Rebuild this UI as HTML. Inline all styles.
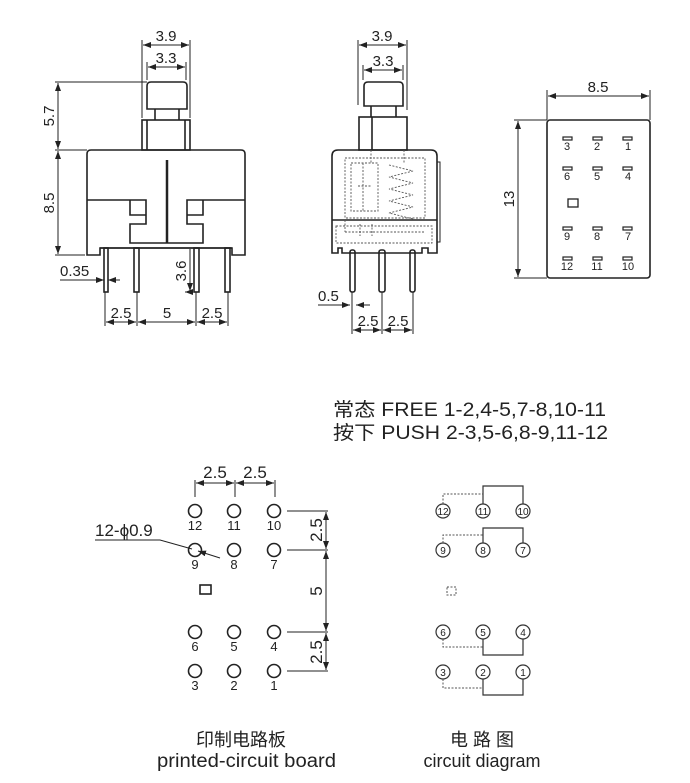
<!DOCTYPE html>
<html><head><meta charset="utf-8"><style>
html,body{margin:0;padding:0;background:#fff;}
svg{display:block;}
text{font-family:"Liberation Sans","Noto Sans CJK SC",sans-serif;fill:#222;}
</style></head><body>
<svg width="690" height="783" viewBox="0 0 690 783" xmlns="http://www.w3.org/2000/svg">
<defs>
<marker id="a" markerWidth="8" markerHeight="6" refX="8" refY="3" orient="auto-start-reverse" markerUnits="userSpaceOnUse"><path d="M0,0 L8,3 L0,6z" fill="#222"/></marker>
</defs>
<g stroke="#222" stroke-width="1.6" fill="none">
<path d="M147,109 V86 Q147,82 151,82 H183 Q187,82 187,86 V109 Z"/>
<path d="M155,109 V120 M179,109 V120"/>
<rect x="142" y="120" width="48" height="30"/>
<path d="M147,120 V150 M185,120 V150"/>
<path d="M87,255 V154 Q87,150 91,150 H241 Q245,150 245,154 V255 H232 V248 H100 V255 Z"/>
<path d="M87,200 H146 V224 H130 V243 H203 V224 H187 V200 H245"/>
<path d="M130,200 V215 H146 M203,200 V215 H187"/>
<path d="M167,160 V243" stroke-width="2.5"/>
<path d="M100,248 H232" />
<rect x="104" y="248" width="4" height="44"/>
<rect x="134" y="248" width="5" height="44"/>
<rect x="194" y="248" width="5" height="44"/>
<rect x="225" y="248" width="5" height="44"/>
</g>
<g stroke="#222" stroke-width="1" fill="none">
<path d="M142,40 V118 M190,40 V118 M147,62 V80 M186,62 V80"/>
<path d="M143,45 H189" marker-start="url(#a)" marker-end="url(#a)"/>
<path d="M148,67 H185" marker-start="url(#a)" marker-end="url(#a)"/>
<path d="M55,82 H147 M55,150 H87 M55,255 H85"/>
<path d="M58,83 V149" marker-start="url(#a)" marker-end="url(#a)"/>
<path d="M58,151 V254" marker-start="url(#a)" marker-end="url(#a)"/>
<path d="M60,280 H104" marker-end="url(#a)"/><path d="M120,280 H108" marker-end="url(#a)"/>
<path d="M185,292 H193 M190,249 V291" marker-start="url(#a)" marker-end="url(#a)"/>
<path d="M105,292 V326 M137,292 V326 M196,292 V326 M228,292 V326"/>
<path d="M106,322 H136" marker-start="url(#a)" marker-end="url(#a)"/>
<path d="M138,322 H195" marker-start="url(#a)" marker-end="url(#a)"/>
<path d="M197,322 H227" marker-start="url(#a)" marker-end="url(#a)"/>
</g>
<g font-size="15">
<text x="166" y="41" text-anchor="middle">3.9</text>
<text x="166" y="63" text-anchor="middle">3.3</text>
<text transform="translate(54,116) rotate(-90)" text-anchor="middle">5.7</text>
<text transform="translate(54,203) rotate(-90)" text-anchor="middle">8.5</text>
<text x="60" y="276">0.35</text>
<text transform="translate(186,271) rotate(-90)" text-anchor="middle">3.6</text>
<text x="121" y="318" text-anchor="middle">2.5</text>
<text x="167" y="318" text-anchor="middle">5</text>
<text x="212" y="318" text-anchor="middle">2.5</text>
</g>
<g stroke="#222" stroke-width="1.6" fill="none">
<path d="M364,106 V86 Q364,82 368,82 H399 Q403,82 403,86 V106 Z"/>
<path d="M371,106 V117 M396,106 V117"/>
<rect x="359" y="117" width="48" height="33"/>
<path d="M372,117 V150"/>
<path d="M332,253 V156 Q332,150 338,150 H431 Q437,150 437,156 V253 H428 V248 H422 V253 H342 V248 H338 V253 Z"/>
<path d="M332,220 H437"/>
<rect x="437" y="162" width="3" height="80" stroke-width="1"/>
<rect x="350" y="250" width="5" height="42" rx="2"/>
<rect x="379" y="250" width="6" height="42" rx="2"/>
<rect x="410" y="250" width="5" height="42" rx="2"/>
</g>
<g stroke="#555" stroke-width="0.9" fill="none" stroke-dasharray="2,1.5">
<rect x="345" y="158" width="80" height="60"/>
<rect x="351" y="163" width="27" height="48"/>
<path d="M363,163 V211 M358,186 H372 M371,150 V163 M404,150 V163"/>
<path d="M389,165 l24,6 l-24,6 l24,6 l-24,6 l24,6 l-24,6 l24,6 l-24,6 l24,6"/>
<path d="M336,226 H432 V243 H336 Z M345,232 H425 M360,224 V236 M372,224 V236 M345,220 V232"/>
</g>
<g stroke="#222" stroke-width="1" fill="none">
<path d="M358,40 V105 M407,40 V110 M363,65 V80 M403,65 V80"/>
<path d="M359,45 H406" marker-start="url(#a)" marker-end="url(#a)"/>
<path d="M364,70 H402" marker-start="url(#a)" marker-end="url(#a)"/>
<path d="M318,305 H350" marker-end="url(#a)"/><path d="M370,305 H356" marker-end="url(#a)"/>
<path d="M352,292 V334 M382,292 V334 M413,292 V334"/>
<path d="M353,330 H381" marker-start="url(#a)" marker-end="url(#a)"/>
<path d="M383,330 H412" marker-start="url(#a)" marker-end="url(#a)"/>
</g>
<g font-size="15">
<text x="382" y="41" text-anchor="middle">3.9</text>
<text x="383" y="66" text-anchor="middle">3.3</text>
<text x="318" y="301">0.5</text>
<text x="368" y="326" text-anchor="middle">2.5</text>
<text x="398" y="326" text-anchor="middle">2.5</text>
</g>
<g stroke="#222" stroke-width="1.6" fill="none">
<rect x="547" y="120" width="103" height="158" rx="3"/>
<rect x="568" y="199" width="10" height="8" stroke-width="1.3"/>
</g>
<g stroke="#222" stroke-width="1" fill="none">
<path d="M547,90 V120 M650,90 V120 M514,120 H547 M514,278 H547"/>
<path d="M548,96 H649" marker-start="url(#a)" marker-end="url(#a)"/>
<path d="M518,121 V277" marker-start="url(#a)" marker-end="url(#a)"/>
</g>
<g fill="#fff" stroke="#222" stroke-width="1.2">
<rect x="563" y="137" width="9" height="3"/><rect x="593" y="137" width="9" height="3"/><rect x="623" y="137" width="9" height="3"/>
<rect x="563" y="167" width="9" height="3"/><rect x="593" y="167" width="9" height="3"/><rect x="623" y="167" width="9" height="3"/>
<rect x="563" y="227" width="9" height="3"/><rect x="593" y="227" width="9" height="3"/><rect x="623" y="227" width="9" height="3"/>
<rect x="563" y="257" width="9" height="3"/><rect x="593" y="257" width="9" height="3"/><rect x="623" y="257" width="9" height="3"/>
</g>
<g font-size="11" text-anchor="middle">
<text x="567" y="150">3</text><text x="597" y="150">2</text><text x="628" y="150">1</text>
<text x="567" y="180">6</text><text x="597" y="180">5</text><text x="628" y="180">4</text>
<text x="567" y="240">9</text><text x="597" y="240">8</text><text x="628" y="240">7</text>
<text x="567" y="270">12</text><text x="597" y="270">11</text><text x="628" y="270">10</text>
</g>
<text x="598" y="92" font-size="15" text-anchor="middle">8.5</text>
<text transform="translate(514,199) rotate(-90)" font-size="15" text-anchor="middle">13</text>
<text x="333" y="416" font-size="19" textLength="273" lengthAdjust="spacingAndGlyphs">常态 FREE 1-2,4-5,7-8,10-11</text>
<text x="333" y="439" font-size="19" textLength="275" lengthAdjust="spacingAndGlyphs">按下 PUSH 2-3,5-6,8-9,11-12</text>
<g stroke="#222" stroke-width="1.6" fill="none">
<circle cx="195" cy="511" r="6.5"/><circle cx="234" cy="511" r="6.5"/><circle cx="274" cy="511" r="6.5"/>
<circle cx="195" cy="550" r="6.5"/><circle cx="234" cy="550" r="6.5"/><circle cx="274" cy="550" r="6.5"/>
<circle cx="195" cy="632" r="6.5"/><circle cx="234" cy="632" r="6.5"/><circle cx="274" cy="632" r="6.5"/>
<circle cx="195" cy="671" r="6.5"/><circle cx="234" cy="671" r="6.5"/><circle cx="274" cy="671" r="6.5"/>
<rect x="200" y="585" width="11" height="9"/>
</g>
<g stroke="#222" stroke-width="1" fill="none">
<path d="M195,480 V497 M235,480 V497 M275,480 V497"/>
<path d="M196,483 H234" marker-start="url(#a)" marker-end="url(#a)"/>
<path d="M236,483 H274" marker-start="url(#a)" marker-end="url(#a)"/>
<path d="M287,511 H328 M287,550 H328 M287,632 H328 M287,671 H328"/>
<path d="M326,512 V549" marker-start="url(#a)" marker-end="url(#a)"/>
<path d="M326,551 V631" marker-start="url(#a)" marker-end="url(#a)"/>
<path d="M326,633 V670" marker-start="url(#a)" marker-end="url(#a)"/>
<path d="M95,540 H160 L192,549"/><path d="M127,540 V535"/>
<path d="M220,558 L198,551" marker-end="url(#a)"/>
</g>
<g font-size="17">
<text x="215" y="478" text-anchor="middle">2.5</text>
<text x="255" y="478" text-anchor="middle">2.5</text>
<text x="95" y="536">12-ϕ0.9</text>
<text transform="translate(322,530) rotate(-90)" text-anchor="middle">2.5</text>
<text transform="translate(322,591) rotate(-90)" text-anchor="middle">5</text>
<text transform="translate(322,652) rotate(-90)" text-anchor="middle">2.5</text>
</g>
<g font-size="13" text-anchor="middle">
<text x="195" y="530">12</text><text x="234" y="530">11</text><text x="274" y="530">10</text>
<text x="195" y="569">9</text><text x="234" y="569">8</text><text x="274" y="569">7</text>
<text x="195" y="651">6</text><text x="234" y="651">5</text><text x="274" y="651">4</text>
<text x="195" y="690">3</text><text x="234" y="690">2</text><text x="274" y="690">1</text>
</g>
<g stroke="#333" stroke-width="1.2" fill="none">
<circle cx="443" cy="511" r="7"/><circle cx="483" cy="511" r="7"/><circle cx="523" cy="511" r="7"/>
<circle cx="443" cy="550" r="7"/><circle cx="483" cy="550" r="7"/><circle cx="523" cy="550" r="7"/>
<circle cx="443" cy="632" r="7"/><circle cx="483" cy="632" r="7"/><circle cx="523" cy="632" r="7"/>
<circle cx="443" cy="672" r="7"/><circle cx="483" cy="672" r="7"/><circle cx="523" cy="672" r="7"/>
<path d="M483,504 V486 H523 V504 M483,543 V528 H523 V543 M483,639 V655 H523 V639 M483,679 V695 H523 V679"/>
</g>
<g stroke="#555" stroke-width="1" fill="none" stroke-dasharray="2,1.5">
<path d="M443,504 V494 H483 M443,543 V535 H483 M443,639 V647 H483 M443,679 V688 H483"/>
<rect x="447" y="587" width="9" height="8"/>
</g>
<g font-size="10" text-anchor="middle">
<text x="443" y="515">12</text><text x="483" y="515">11</text><text x="523" y="515">10</text>
<text x="443" y="554">9</text><text x="483" y="554">8</text><text x="523" y="554">7</text>
<text x="443" y="636">6</text><text x="483" y="636">5</text><text x="523" y="636">4</text>
<text x="443" y="676">3</text><text x="483" y="676">2</text><text x="523" y="676">1</text>
</g>
<g font-size="18">
<text x="241" y="746" text-anchor="middle">印制电路板</text>
<text x="157" y="767" font-size="19" textLength="179" lengthAdjust="spacingAndGlyphs">printed-circuit board</text>
<text x="482" y="746" text-anchor="middle">电 路 图</text>
<text x="482" y="767" text-anchor="middle">circuit diagram</text>
</g>
</svg>
</body></html>
